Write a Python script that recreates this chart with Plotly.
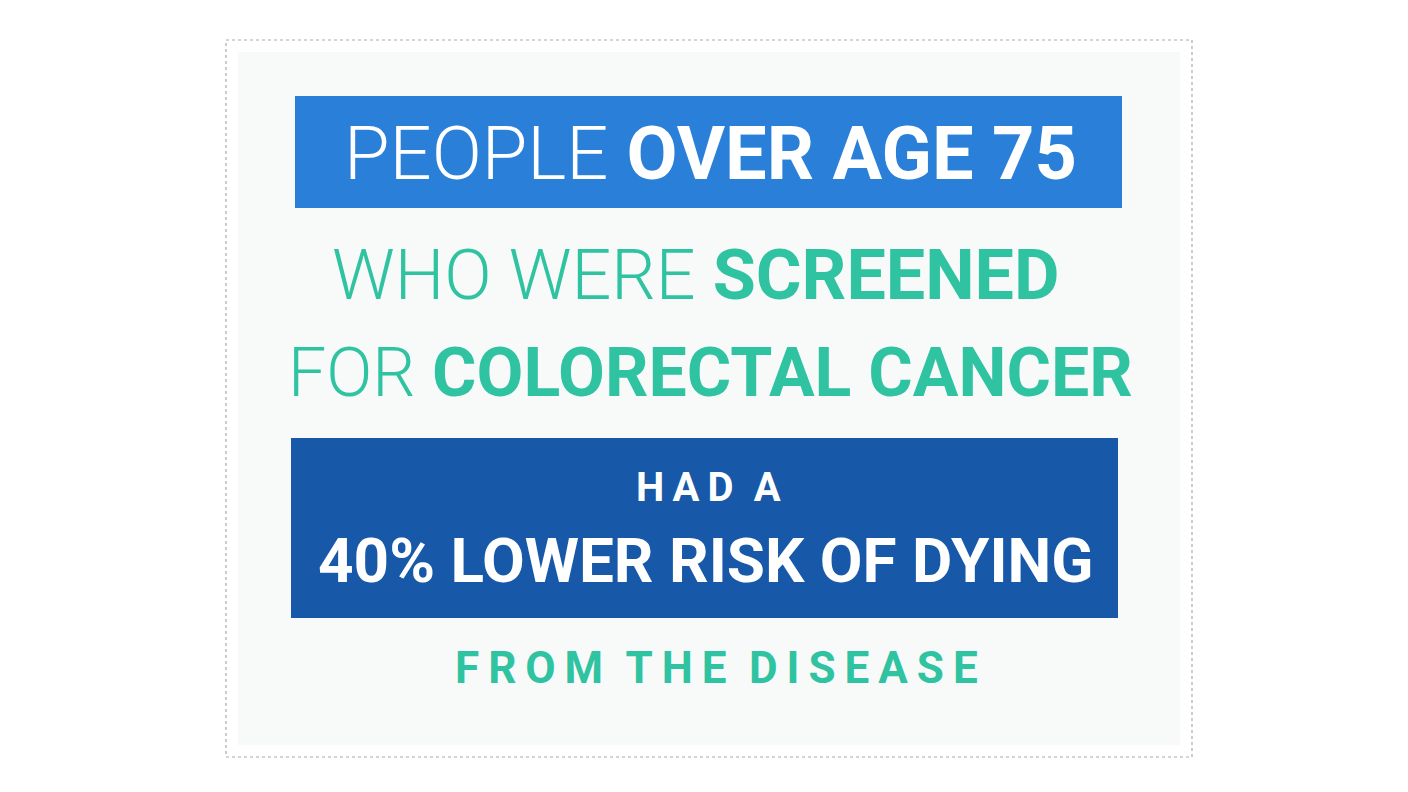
import plotly.graph_objects as go

# text lines of the infographic
line_texts = [
    "PEOPLE <b>OVER AGE 75</b>",
    "WHO WERE <b>SCREENED</b>",
    "FOR <b>COLORECTAL CANCER</b>",
    "<b>H\u2009A\u2009D\u2002A</b>",
    "<b>40% LOWER RISK OF DYING</b>",
    "<b>F\u2009R\u2009O\u2009M\u2002T\u2009H\u2009E\u2002D\u2009I\u2009S\u2009E\u2009A\u2009S\u2009E</b>",
]
line_y = [153, 275, 373, 487, 560, 668]
line_x = [710, 695, 710, 708, 706, 716]
line_size = [74, 70, 68, 40, 62, 44]
line_color = ["white", "#2fc3a1", "#2fc3a1", "white", "white", "#2fc3a1"]

BLUE = "#2a7fd8"
DARK = "#1759a8"

fig = go.Figure()
fig.update_xaxes(range=[8, 1416], visible=False)
fig.update_yaxes(range=[800, 8], visible=False)

shapes = [
    dict(type="rect", x0=226, x1=1192, y0=40, y1=757,
         line=dict(color="#aaaaaa", width=1.2, dash="dot"), fillcolor="white"),
    dict(type="rect", x0=238, x1=1180, y0=52, y1=745,
         line=dict(width=0), fillcolor="#f8f9f9"),
    dict(type="rect", x0=295, x1=1122, y0=96, y1=208,
         line=dict(width=0), fillcolor=BLUE),
    dict(type="rect", x0=291, x1=1118, y0=438, y1=618,
         line=dict(width=0), fillcolor=DARK),
]
for s in shapes:
    s.update(xref="x", yref="y", layer="below")

for t, x, y, sz, c in zip(line_texts, line_x, line_y, line_size, line_color):
    fig.add_annotation(x=x, y=y, text=t, showarrow=False, xanchor="center", yanchor="middle",
                       font=dict(family="Roboto", size=sz, color=c, weight=300))

fig.update_layout(
    shapes=shapes,
    width=1408, height=792,
    margin=dict(l=0, r=0, t=0, b=0),
    paper_bgcolor="white", plot_bgcolor="white",
    showlegend=False,
)
fig.write_html("out.html")
